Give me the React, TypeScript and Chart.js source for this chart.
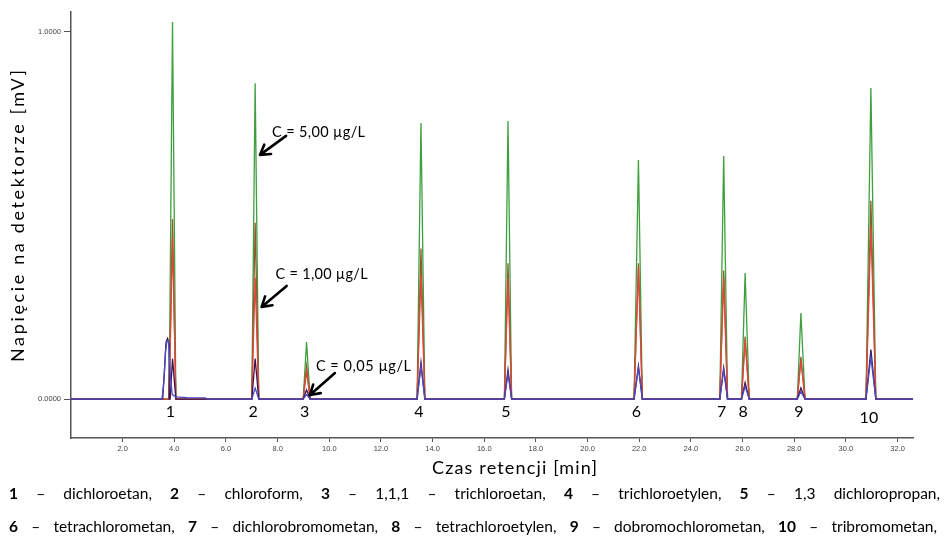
import React, { useEffect, useRef } from 'react';
import { Chart, registerables } from 'chart.js';

Chart.register(...registerables);

// ---------- data ----------
const peakNumbers = ['1', '2', '3', '4', '5', '6', '7', '8', '9', '10'];
const compoundNames = [
  'dichloroetan', 'chloroform', '1,1,1 – trichloroetan', 'trichloroetylen', '1,3  dichloropropan',
  'tetrachlorometan', 'dichlorobromometan', 'tetrachloroetylen', 'dobromochlorometan', 'tribromometan',
];
// retention times [min]
const retentionTimes = [3.93, 7.13, 9.12, 13.55, 16.92, 21.97, 25.27, 26.10, 28.26, 30.97];
const peakStart = [3.80, 7.00, 8.99, 13.40, 16.78, 21.80, 25.12, 25.96, 28.12, 30.78];
const peakEnd = [4.06, 7.27, 9.26, 13.70, 17.06, 22.12, 25.42, 26.26, 28.42, 31.16];

// detector voltage at peak apex [mV], one array per standard
const seriesGreen = [1.027, 0.86, 0.155, 0.752, 0.757, 0.651, 0.662, 0.343, 0.234, 0.847];
const seriesBrown = [0.49, 0.48, 0.09, 0.41, 0.37, 0.37, 0.35, 0.17, 0.115, 0.54];
const seriesRed = [0.44, 0.33, 0.075, 0.34, 0.33, 0.36, 0.33, 0.16, 0.105, 0.47];
const seriesPurple = [0.11, 0.11, 0.025, 0.10, 0.08, 0.09, 0.085, 0.045, 0.03, 0.135];
const seriesBlue = [0.0, 0.03, 0.012, 0.09, 0.07, 0.085, 0.08, 0.035, 0.02, 0.115];
// broad first hump + tail (peak 1)
const blueHumpTimes = [3.52, 3.60, 3.66, 3.72, 3.78, 3.84, 3.92, 4.05, 4.50, 5.20, 5.28];
const blueHumpValues = [0.0, 0.05, 0.13, 0.16, 0.155, 0.07, 0.012, 0.006, 0.004, 0.003, 0.0];
const purpleHumpTimes = [3.55, 3.62, 3.68, 3.74, 3.80, 3.84];
const purpleHumpValues = [0.0, 0.08, 0.155, 0.165, 0.15, 0.0];

const xTickValues = [2, 4, 6, 8, 10, 12, 14, 16, 18, 20, 22, 24, 26, 28, 30, 32];
const yTickValues = [0, 1];
const xMin = 0;
const xMax = 32.6;
const yMin = -0.106;
const yMax = 1.054;

const annotationTexts = ['C = 5,00 µg/L', 'C = 1,00 µg/L', 'C = 0,05 µg/L'];
const annotationTargetTimes = [7.32, 7.38, 9.25];
const annotationTargetValues = [0.665, 0.251, 0.011];

const xTitle = 'Czas retencji [min]';
const yTitle = 'Napięcie na detektorze [mV]';

// ---------- helpers ----------
type P = { x: number; y: number };

function buildSeries(heights: number[], hump?: { t: number[]; v: number[] }): P[] {
  const pts: P[] = [{ x: xMin, y: 0 }];
  if (hump) hump.t.forEach((t, k) => pts.push({ x: t, y: hump.v[k] }));
  heights.forEach((h, i) => {
    if (h <= 0) return;
    pts.push({ x: peakStart[i], y: 0 }, { x: retentionTimes[i], y: h }, { x: peakEnd[i], y: 0 });
  });
  pts.push({ x: xMax, y: 0 });
  pts.sort((a, b) => a.x - b.x);
  return pts;
}

function drawArrow(ctx: CanvasRenderingContext2D, x1: number, y1: number, x2: number, y2: number) {
  ctx.save();
  ctx.strokeStyle = '#000';
  ctx.lineWidth = 2.6;
  ctx.lineCap = 'round';
  ctx.lineJoin = 'round';
  ctx.beginPath();
  ctx.moveTo(x1, y1);
  ctx.lineTo(x2, y2);
  const a = Math.atan2(y2 - y1, x2 - x1);
  const len = 11;
  const spread = 0.55;
  ctx.moveTo(x2 - len * Math.cos(a - spread), y2 - len * Math.sin(a - spread));
  ctx.lineTo(x2, y2);
  ctx.lineTo(x2 - len * Math.cos(a + spread), y2 - len * Math.sin(a + spread));
  ctx.stroke();
  ctx.restore();
}

function drawFitted(ctx: CanvasRenderingContext2D, text: string, left: number, cy: number, width: number) {
  (ctx as any).letterSpacing = '0px';
  const w = ctx.measureText(text).width;
  const n = Array.from(text).length;
  const ls = (width - w) / Math.max(1, n - 1);
  (ctx as any).letterSpacing = ls + 'px';
  ctx.textAlign = 'left';
  ctx.textBaseline = 'middle';
  ctx.fillText(text, left, cy);
  (ctx as any).letterSpacing = '0px';
}

type Tok = { t: string; bold: boolean };
const FAM = 'Lato, "Open Sans", sans-serif';

function drawJustified(ctx: CanvasRenderingContext2D, toks: Tok[], left: number, right: number, cy: number, size: number) {
  const widths = toks.map((tk) => {
    ctx.font = `${tk.bold ? 'bold ' : ''}${size}px ${FAM}`;
    return ctx.measureText(tk.t).width;
  });
  const total = widths.reduce((a, b) => a + b, 0);
  const gap = (right - left - total) / (toks.length - 1);
  let x = left;
  ctx.textAlign = 'left';
  ctx.textBaseline = 'middle';
  ctx.fillStyle = '#000';
  toks.forEach((tk, i) => {
    ctx.font = `${tk.bold ? 'bold ' : ''}${size}px ${FAM}`;
    ctx.fillText(tk.t, x, cy);
    x += widths[i] + gap;
  });
}

function legendTokens(from: number, to: number): Tok[] {
  const toks: Tok[] = [];
  for (let i = from; i < to; i++) {
    toks.push({ t: peakNumbers[i], bold: true });
    toks.push({ t: '–', bold: false });
    const words = (compoundNames[i] + ',').split(/\s+/);
    words.forEach((w) => toks.push({ t: w, bold: false }));
  }
  return toks;
}

const decorPlugin = {
  id: 'decor',
  afterDraw(chart: any) {
    const ctx: CanvasRenderingContext2D = chart.ctx;
    const xs = chart.scales.x;
    const ys = chart.scales.y;
    const base = ys.getPixelForValue(0);
    ctx.save();
    ctx.fillStyle = '#000';

    // peak numbers
    ctx.font = `16px ${FAM}`;
    ctx.textAlign = 'center';
    ctx.textBaseline = 'middle';
    peakNumbers.forEach((n, i) => {
      const px = xs.getPixelForValue(retentionTimes[i]) - 2;
      ctx.fillText(n, px, base + (i === 9 ? 19 : 13));
    });

    // concentration annotations
    const tailOff = [[26, -19], [25, -21], [25, -22]];
    const textOff = [[12, -23], [14, -33], [6, -29]];
    const textW = [93, 92, 95];
    ctx.font = `14.5px ${FAM}`;
    annotationTexts.forEach((txt, i) => {
      const tx = xs.getPixelForValue(annotationTargetTimes[i]);
      const ty = ys.getPixelForValue(annotationTargetValues[i]);
      drawFitted(ctx, txt, tx + textOff[i][0], ty + textOff[i][1], textW[i]);
      drawArrow(ctx, tx + tailOff[i][0], ty + tailOff[i][1], tx, ty);
    });

    // axis titles
    ctx.font = `18px ${FAM}`;
    drawFitted(ctx, xTitle, 432, 468, 165);
    ctx.save();
    ctx.translate(18, 216);
    ctx.rotate(-Math.PI / 2);
    ctx.font = `18px ${FAM}`;
    drawFitted(ctx, yTitle, -146, 0, 292);
    ctx.restore();

    // compound legend
    drawJustified(ctx, legendTokens(0, 5), 9, 940, 494, 15.5);
    drawJustified(ctx, legendTokens(5, 10), 9, 937, 527, 15.5);
    ctx.restore();
  },
};

export default function App() {
  const ref = useRef<HTMLCanvasElement>(null);

  useEffect(() => {
    if (!ref.current) return;
    const mk = (label: string, data: P[], color: string) => ({
      label,
      data,
      borderColor: color,
      backgroundColor: color,
      borderWidth: 1.3,
      pointRadius: 0,
      tension: 0,
      fill: false,
    });
    const chart = new Chart(ref.current, {
      type: 'line',
      data: {
        datasets: [
          mk('C = 0,05 µg/L', buildSeries(seriesBlue, { t: blueHumpTimes, v: blueHumpValues }), '#4a4ac4'),
          mk('Seria 4', buildSeries(seriesPurple, { t: purpleHumpTimes, v: purpleHumpValues }), '#3d1450'),
          mk('C = 1,00 µg/L', buildSeries(seriesRed), '#e2453c'),
          mk('Seria 2', buildSeries(seriesBrown), '#8c5d2c'),
          mk('C = 5,00 µg/L', buildSeries(seriesGreen), '#3f9f3f'),
        ],
      },
      options: {
        responsive: false,
        animation: false,
        devicePixelRatio: 1,
        layout: { padding: { left: 0, top: 12, right: 35, bottom: 0 } },
        plugins: {
          legend: { display: false },
          tooltip: { enabled: false },
          title: { display: false },
        },
        scales: {
          x: {
            type: 'linear',
            min: xMin,
            max: xMax,
            afterBuildTicks: (s: any) => {
              s.ticks = xTickValues.map((v) => ({ value: v }));
            },
            afterFit: (s: any) => {
              s.height = 103;
            },
            grid: { display: true, drawOnChartArea: false, drawTicks: true, tickLength: 4, color: '#555' },
            border: { display: true, color: '#555', width: 1.5 },
            ticks: {
              autoSkip: false,
              maxRotation: 0,
              padding: 2,
              color: '#444',
              font: { size: 7.5, family: '"Liberation Sans", Arial, sans-serif' },
              callback: (v: any) => Number(v).toFixed(1),
            },
          },
          y: {
            type: 'linear',
            min: yMin,
            max: yMax,
            afterBuildTicks: (s: any) => {
              s.ticks = yTickValues.map((v) => ({ value: v }));
            },
            afterFit: (s: any) => {
              s.width = 71;
            },
            grid: { display: true, drawOnChartArea: false, drawTicks: true, tickLength: 7, color: '#555' },
            border: { display: true, color: '#555', width: 1.5 },
            ticks: {
              padding: 3,
              color: '#444',
              font: { size: 7.5, family: '"Liberation Sans", Arial, sans-serif' },
              callback: (v: any) => Number(v).toFixed(4),
            },
          },
        },
      },
      plugins: [decorPlugin],
    } as any);
    return () => chart.destroy();
  }, []);

  return (
    <div style={{ position: 'absolute', left: 0, top: 0, width: 948, height: 541, background: '#fff' }}>
      <canvas ref={ref} width={948} height={541} style={{ display: 'block', width: 948, height: 541 }} />
    </div>
  );
}
